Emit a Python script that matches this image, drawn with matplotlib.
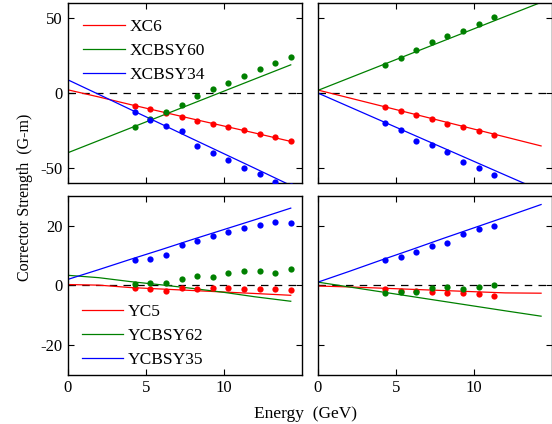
import numpy as np
import matplotlib
matplotlib.use('Agg')
import matplotlib.pyplot as plt

plt.rcParams['font.family'] = ['Liberation Serif', 'DejaVu Serif']
plt.rcParams['axes.unicode_minus'] = False
plt.rcParams['font.size'] = 12

# measured points (energy in GeV)
E_left = [4.3, 5.3, 6.3, 7.3, 8.3, 9.3, 10.3, 11.3, 12.3, 13.3, 14.3]
E_right = [4.3, 5.3, 6.3, 7.3, 8.3, 9.3, 10.3, 11.3]

# model lines
E_line = [0, 2, 4, 6, 8, 10, 12, 14.3]

# top left: horizontal correctors
xc6_pts = [-8.7, -10.7, -13.6, -15.8, -18.4, -20.7, -22.7, -24.9, -27.3, -29.3, -31.8]
xcbsy60_pts = [-22.4, -17.1, -12.7, -7.8, -2.2, 2.7, 6.7, 11.6, 15.8, 20.0, 24.0]
xcbsy34_pts = [-12.7, -17.8, -21.8, -25.4, -35.1, -40.2, -44.9, -49.8, -53.8, -58.9, -62.0]
xc6_line = [2.2, -2.6, -7.6, -12.4, -17.2, -21.9, -26.6, -32.2]
xcbsy60_line = [-39.8, -31.6, -23.4, -15.2, -7.0, 1.2, 9.4, 18.8]
xcbsy34_line = [8.9, -0.9, -10.8, -20.6, -30.5, -40.3, -50.1, -61.5]

# top right
xc6_pts_r = [-9.3, -12.0, -14.9, -17.3, -20.4, -22.7, -25.3, -28.0]
xcbsy60_pts_r = [18.7, 23.3, 28.9, 33.8, 38.0, 41.3, 46.2, 50.4]
xcbsy34_pts_r = [-19.6, -24.7, -31.6, -34.9, -39.1, -46.2, -50.2, -54.4]
xc6_line_r = [2.0, -3.2, -8.4, -13.6, -18.8, -24.0, -29.2, -35.2]
xcbsy60_line_r = [1.8, 10.0, 18.2, 26.4, 34.6, 42.8, 51.0, 60.4]
xcbsy34_line_r = [0.0, -9.1, -18.2, -27.3, -36.4, -45.5, -54.6, -65.0]

# bottom left: vertical correctors
yc5_pts = [-1.0, -1.3, -1.7, -1.0, -1.1, -1.0, -1.0, -1.2, -1.2, -1.2, -1.6]
ycbsy62_pts = [0.6, 0.9, 0.8, 2.2, 3.3, 2.9, 4.3, 5.0, 4.8, 4.0, 5.4]
ycbsy35_pts = [8.4, 8.8, 10.2, 13.7, 14.8, 16.6, 18.0, 19.2, 20.3, 21.3, 21.0]
yc5_line = [0.3, 0.1, -0.7, -1.2, -1.7, -2.2, -2.7, -3.3]
ycbsy62_line = [3.4, 2.6, 1.3, 0.2, -1.0, -2.3, -3.8, -5.3]
ycbsy35_line = [2.0, 5.3, 8.7, 12.0, 15.4, 18.7, 22.0, 25.9]

# bottom right
yc5_pts_r = [-1.2, -1.7, -2.0, -2.3, -2.7, -2.7, -2.9, -3.4]
ycbsy62_pts_r = [-2.4, -2.2, -2.2, -0.8, -0.4, -1.3, -0.6, 0.1]
ycbsy35_pts_r = [8.4, 9.4, 11.3, 13.1, 14.1, 17.2, 19.0, 20.0]
yc5_line_r = [-0.2, -0.5, -0.9, -1.3, -1.7, -2.1, -2.5, -2.6]
ycbsy62_line_r = [1.1, -0.5, -2.1, -3.7, -5.3, -6.9, -8.5, -10.3]
ycbsy35_line_r = [1.1, 4.7, 8.4, 12.0, 15.7, 19.3, 22.9, 27.1]

RED, GREEN, BLUE = '#ff0000', '#008000', '#0000ff'
colors = [RED, GREEN, BLUE]

fig = plt.figure(figsize=(5.52, 4.24), dpi=100)
W = 0.424
ax_tl = fig.add_axes([0.1225, 0.568, W, 0.425])
ax_tr = fig.add_axes([0.576, 0.568, W, 0.425])
ax_bl = fig.add_axes([0.1225, 0.1156, W, 0.4224])
ax_br = fig.add_axes([0.576, 0.1156, W, 0.4224])


def draw(ax, E_pts, pts, lines, labels=None):
    ax.axhline(0, color='black', lw=0.9, ls=(0, (6, 5)), zorder=1)
    for i, c in enumerate(colors):
        lab = labels[i] if labels else None
        ax.plot(E_line, lines[i], color=c, lw=0.9, label=lab, zorder=2)
        ax.plot(E_pts, pts[i], 'o', color=c, ms=4.5, mew=0, zorder=3)
    ax.set_xlim(0, 15)
    ax.set_xticks([0, 5, 10])
    ax.tick_params(direction='in', top=True, right=True, length=4, width=0.8,
                   labelsize=12)
    for s in ax.spines.values():
        s.set_linewidth(1.0)


draw(ax_tl, E_left, [xc6_pts, xcbsy60_pts, xcbsy34_pts],
     [xc6_line, xcbsy60_line, xcbsy34_line], ['XC6', 'XCBSY60', 'XCBSY34'])
draw(ax_tr, E_right, [xc6_pts_r, xcbsy60_pts_r, xcbsy34_pts_r],
     [xc6_line_r, xcbsy60_line_r, xcbsy34_line_r])
draw(ax_bl, E_left, [yc5_pts, ycbsy62_pts, ycbsy35_pts],
     [yc5_line, ycbsy62_line, ycbsy35_line], ['YC5', 'YCBSY62', 'YCBSY35'])
draw(ax_br, E_right, [yc5_pts_r, ycbsy62_pts_r, ycbsy35_pts_r],
     [yc5_line_r, ycbsy62_line_r, ycbsy35_line_r])

for ax in (ax_tl, ax_tr):
    ax.set_ylim(-60, 60)
    ax.set_yticks([-50, 0, 50])
    ax.tick_params(labelbottom=False)
for ax in (ax_bl, ax_br):
    ax.set_ylim(-30, 30)
    ax.set_yticks([-20, 0, 20])
for ax in (ax_tr, ax_br):
    ax.tick_params(labelleft=False)

leg_kw = dict(frameon=False, fontsize=12.5, handlelength=2.4, handletextpad=0.25,
              labelspacing=0.45, borderpad=0.3)
ax_tl.legend(loc='upper left', borderaxespad=0.6, **leg_kw)
ax_bl.legend(loc='lower left', bbox_to_anchor=(0.03, 0.0),
             borderaxespad=0.1, **leg_kw)

fig.text(0.045, 0.535, 'Corrector Strength  (G-m)', rotation=90,
         ha='center', va='center', fontsize=11.5)
fig.text(0.553, 0.024, 'Energy  (GeV)', ha='center', va='center', fontsize=12.5)

fig.savefig('out.png', dpi=100)
